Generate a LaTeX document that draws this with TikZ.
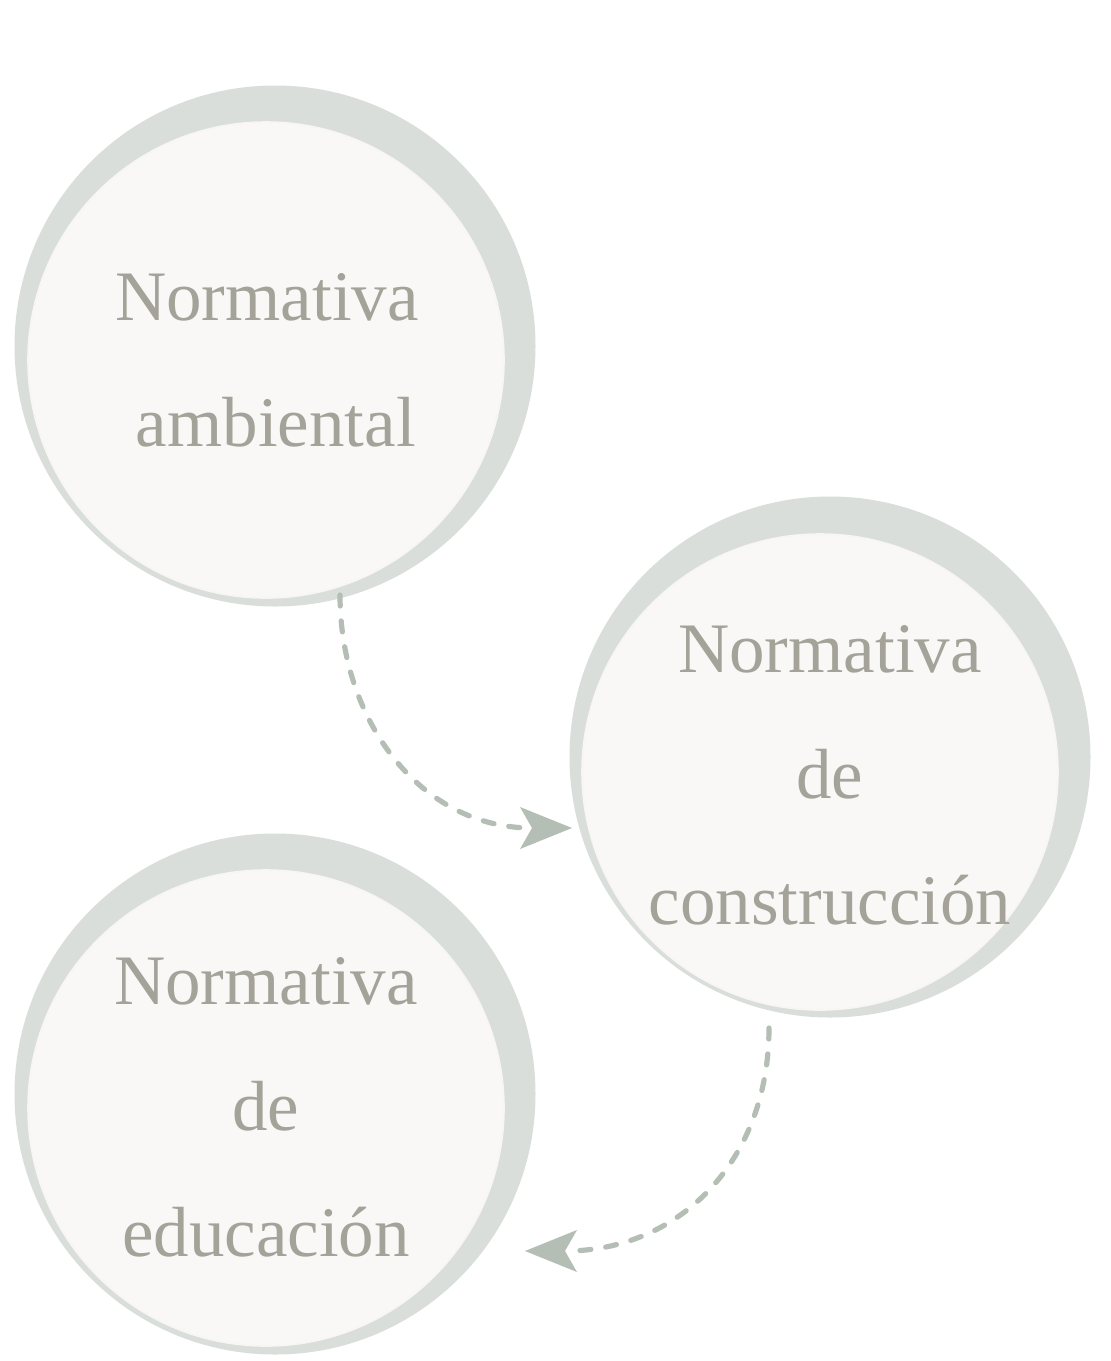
\documentclass[tikz,border=0pt]{standalone}
\usepackage{fontspec}
\setmainfont{Liberation Serif}
\usetikzlibrary{arrows.meta,calc}
\definecolor{ringgray}{HTML}{D9DEDA}
\definecolor{discfill}{HTML}{FAF8F7}
\definecolor{txtgray}{HTML}{A5A399}
\definecolor{arrgray}{HTML}{B4BEB4}
\begin{document}
\begin{tikzpicture}[x=0.5pt,y=-0.5pt,
  ringnode/.style={circle,fill=ringgray,minimum size=260.5pt,inner sep=0pt},
  discnode/.style={circle,fill=discfill,draw=discfill!92!ringgray,line width=0.8pt,minimum size=238pt,inner sep=0pt},
  cirtext/.style={text=txtgray,align=center,inner sep=0pt,font=\fontsize{35.5}{63}\selectfont},
  flow/.style={draw=arrgray,line width=2.6pt,dash pattern=on 5.5pt off 7.5pt,line cap=round,
    -{Stealth[length=26pt,width=21pt,inset=6pt,fill=arrgray,line width=0pt]}}]
  \fill[white] (0,0) rectangle (1110,1361);
  \useasboundingbox (0,0) rectangle (1110,1361);
  % item 1
  \node[ringnode] (o1) at (275,346) {};
  \node[discnode] (d1) at (266,360) {};
  \node[cirtext] (n1) at (267,360) {Normativa\\\hspace*{0.25em}ambiental};
  % item 2
  \node[ringnode] (o2) at (830,757) {};
  \node[discnode] (d2) at (820,772) {};
  \node[cirtext] (n2) at (830,775) {Normativa\\de\\construcción};
  % item 3
  \node[ringnode] (o3) at (275,1094) {};
  \node[discnode] (d3) at (266,1108) {};
  \node[cirtext] (n3) at (266,1107) {Normativa\\de\\educación};
  % connectors
  \draw[flow] ($(o1.center)+(65,249)$) .. controls +(0,125) and +(-152,0) .. ($(o2.center)+(-258,71)$);
  \draw[flow] ($(o2.center)+(-61,271)$) .. controls +(0,132) and +(155,0) .. ($(o3.center)+(250,157)$);
\end{tikzpicture}
\end{document}
